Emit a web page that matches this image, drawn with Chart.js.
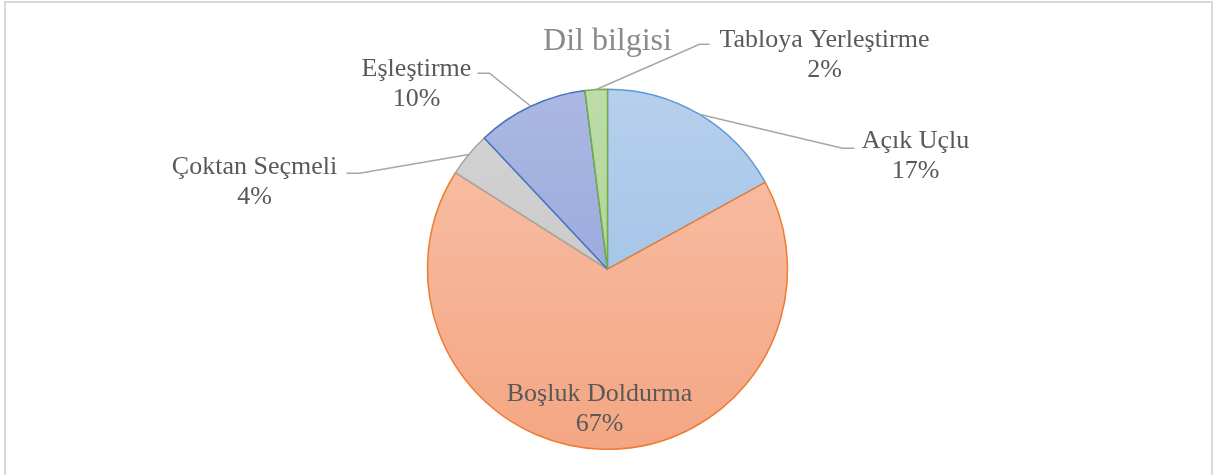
<!DOCTYPE html>
<html lang="tr">
<head>
<meta charset="UTF-8">
<title>Dil bilgisi</title>
<script src="https://cdn.jsdelivr.net/npm/chart.js"></script>
<style>
    html, body { margin: 0; padding: 0; overflow: hidden; background: #ffffff; }
    /* outer chart frame, open at the bottom */
    .frame {
        position: absolute; left: 4px; top: 1px;
        width: 1205px; height: 480px;
        border: 2px solid #d9d9d9; border-bottom: none;
    }
    .chart-wrap { position: absolute; left: 0; top: 0; width: 1215px; height: 475px; }
</style>
</head>
<body>
<div class="frame"></div>
<div class="chart-wrap"><canvas id="pieChart"></canvas></div>

<script>
    // slice data, clockwise from 12 o'clock
    const categories = ['Açık Uçlu', 'Boşluk Doldurma', 'Çoktan Seçmeli', 'Eşleştirme', 'Tabloya Yerleştirme'];
    const shares = [17, 67, 4, 10, 2];

    // gradient stops (top, bottom) and outline per slice
    const fillTop = ['#b6cfec', '#f8c2aa', '#d4d4d4', '#abb8e2', '#bddca9'];
    const fillBottom = ['#9abde6', '#f4a683', '#c2c2c2', '#8d9ed8', '#a7cf8c'];
    const outlines = ['#5b9bd5', '#ed7d31', '#a5a5a5', '#4472c4', '#70ad47'];

    // label position / leader line, offsets from the pie centre
    const labelPlacement = [
        { text: [308, -113], elbow: [235, -121], end: [247, -121] },
        { text: [-8, 140] },
        { text: [-353, -87], elbow: [-248, -96], end: [-261, -96] },
        { text: [-191, -185], elbow: [-118, -196], end: [-130, -196] },
        { text: [217, -214], elbow: [92, -225], end: [102, -225] }
    ];

    const labelFont = '26px "Liberation Serif", "Times New Roman", serif';

    function sliceFill(context) {
        const chart = context.chart;
        const area = chart.chartArea;
        const i = context.dataIndex;
        if (!area) return fillTop[i];
        const g = chart.ctx.createLinearGradient(0, area.top, 0, area.bottom);
        g.addColorStop(0, fillTop[i]);
        g.addColorStop(1, fillBottom[i]);
        return g;
    }

    // category name + percentage, with leader lines for outside labels
    const sliceLabels = {
        id: 'sliceLabels',
        afterDatasetsDraw(chart) {
            const ctx = chart.ctx;
            const meta = chart.getDatasetMeta(0);
            const total = shares.reduce((a, b) => a + b, 0);
            ctx.save();
            meta.data.forEach((arc, i) => {
                const p = arc.getProps(['x', 'y', 'startAngle', 'endAngle', 'outerRadius'], true);
                const place = labelPlacement[i];
                const mid = (p.startAngle + p.endAngle) / 2;
                if (place.elbow) {
                    ctx.strokeStyle = '#a6a6a6';
                    ctx.lineWidth = 1.5;
                    ctx.beginPath();
                    ctx.moveTo(p.x + Math.cos(mid) * p.outerRadius, p.y + Math.sin(mid) * p.outerRadius);
                    ctx.lineTo(p.x + place.elbow[0], p.y + place.elbow[1]);
                    ctx.lineTo(p.x + place.end[0], p.y + place.end[1]);
                    ctx.stroke();
                }
                const cx = p.x + place.text[0];
                const cy = p.y + place.text[1];
                ctx.font = labelFont;
                ctx.fillStyle = '#595959';
                ctx.textAlign = 'center';
                ctx.textBaseline = 'middle';
                ctx.fillText(categories[i], cx, cy - 15);
                ctx.fillText(Math.round(shares[i] / total * 100) + '%', cx, cy + 15);
            });
            ctx.restore();
        }
    };

    new Chart(document.getElementById('pieChart'), {
        type: 'pie',
        data: {
            labels: categories,
            datasets: [{
                data: shares,
                backgroundColor: sliceFill,
                borderColor: outlines,
                borderWidth: 1.5
            }]
        },
        options: {
            responsive: true,
            maintainAspectRatio: false,
            animation: false,
            layout: { padding: { top: 0, bottom: 25, left: 0, right: 0 } },
            plugins: {
                legend: { display: false },
                tooltip: { enabled: false },
                title: {
                    display: true,
                    text: 'Dil bilgisi',
                    color: '#8a8a8a',
                    font: { family: '"Liberation Serif", "Times New Roman", serif', size: 32, weight: 'normal', lineHeight: 1.2 },
                    padding: { top: 22, bottom: 28 }
                }
            }
        },
        plugins: [sliceLabels]
    });
</script>
</body>
</html>
